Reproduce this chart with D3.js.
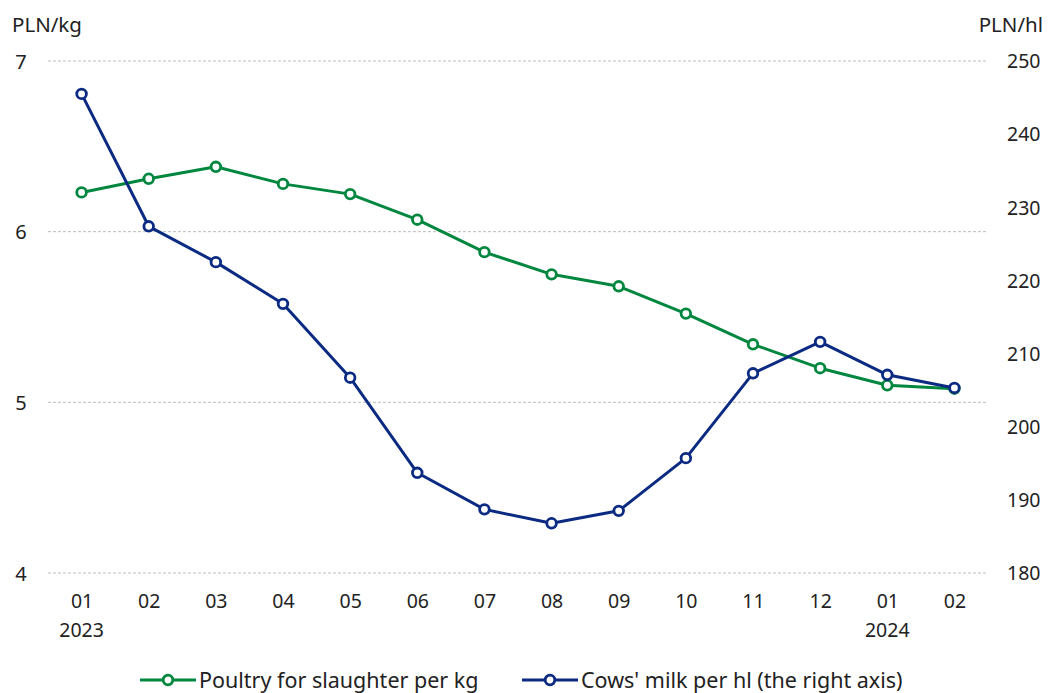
<!DOCTYPE html>
<html><head><meta charset="utf-8">
<script src="https://cdn.jsdelivr.net/npm/d3@7"></script>
<style>
body{margin:0;background:#fff;}
text{font-family:"Noto Sans","Open Sans",sans-serif;fill:#222;}
</style></head>
<body><svg id="c" width="1050" height="693"></svg>
<script>
const months = ["01","02","03","04","05","06","07","08","09","10","11","12","01","02"];
const years = {0:"2023", 12:"2024"};
const poultry = [6.23,6.31,6.38,6.28,6.22,6.07,5.88,5.75,5.68,5.52,5.34,5.20,5.10,5.08];
const milk = [245.5,227.4,222.5,216.8,206.7,193.7,188.7,186.8,188.5,195.7,207.3,211.6,207.1,205.3];
const leftTicks = [4,5,6,7];
const rightTicks = [180,190,200,210,220,230,240,250];
const green = "#00873f", blue = "#0b2a82";

const svg = d3.select("#c");
const L = 48, R = 988, T = 61, B = 573;
const x = d3.scalePoint().domain(d3.range(months.length)).range([L, R]).padding(0.5);
const yL = d3.scaleLinear().domain([4,7]).range([B, T]);
const yR = d3.scaleLinear().domain([180,250]).range([B, T]);

// gridlines
svg.append("g").selectAll("line").data(leftTicks).join("line")
  .attr("x1", L).attr("x2", R).attr("y1", d=>yL(d)).attr("y2", d=>yL(d))
  .attr("stroke", "#bdbdbd").attr("stroke-width", 1).attr("stroke-dasharray", "3,2");

// left axis labels
const gl = svg.append("g").attr("transform", `translate(27,0)`)
  .call(d3.axisLeft(yL).tickValues(leftTicks).tickFormat(d3.format("d")).tickSize(0).tickPadding(0));
gl.select(".domain").remove();
gl.selectAll("text").attr("font-size", 20).attr("text-anchor","middle").attr("x",-6).attr("dy","0.35em");

const gr = svg.append("g").attr("transform", `translate(1007,0)`)
  .call(d3.axisRight(yR).tickValues(rightTicks).tickSize(0).tickPadding(0));
gr.select(".domain").remove();
gr.selectAll("text").attr("font-size", 19.5).attr("dy","0.35em");

// x axis
const gx = svg.append("g").attr("transform", `translate(0,${B})`)
  .call(d3.axisBottom(x).tickFormat(i=>months[i]).tickSize(0).tickPadding(21));
gx.select(".domain").remove();
gx.selectAll("text").attr("font-size", 19.5);
svg.append("g").selectAll("text").data(Object.keys(years)).join("text")
  .attr("x", d=>x(+d)).attr("y", 637).attr("text-anchor","middle").attr("font-size",19.5)
  .text(d=>years[d]);

// unit labels
svg.append("text").attr("x", 12).attr("y", 32).attr("font-size", 20.5).text("PLN/kg");
svg.append("text").attr("x", 1043).attr("y", 32).attr("font-size", 20.5).attr("text-anchor","end").text("PLN/hl");

function series(data, y, color){
  svg.append("path").datum(data)
    .attr("d", d3.line().x((d,i)=>x(i)).y(d=>y(d)))
    .attr("fill","none").attr("stroke", color).attr("stroke-width", 3).attr("stroke-linejoin","round");
  svg.append("g").selectAll("circle").data(data).join("circle")
    .attr("cx",(d,i)=>x(i)).attr("cy", d=>y(d)).attr("r", 4.8)
    .attr("fill","#fff").attr("stroke", color).attr("stroke-width", 2.8);
}
series(poultry, yL, green);
series(milk, yR, blue);

// legend
const legend = [
  {label:"Poultry for slaughter per kg", color: green, x: 140},
  {label:"Cows' milk per hl (the right axis)", color: blue, x: 522}
];
const lg = svg.append("g").selectAll("g").data(legend).join("g")
  .attr("transform", d=>`translate(${d.x},680)`);
lg.append("line").attr("x1",0).attr("x2",56).attr("y1",0).attr("y2",0)
  .attr("stroke", d=>d.color).attr("stroke-width",3);
lg.append("circle").attr("cx",28).attr("cy",0).attr("r",4.8).attr("fill","#fff")
  .attr("stroke", d=>d.color).attr("stroke-width",2.8);
lg.append("text").attr("x",59).attr("y",0).attr("dy","0.35em").attr("font-size",21.5).text(d=>d.label);
</script></body></html>
